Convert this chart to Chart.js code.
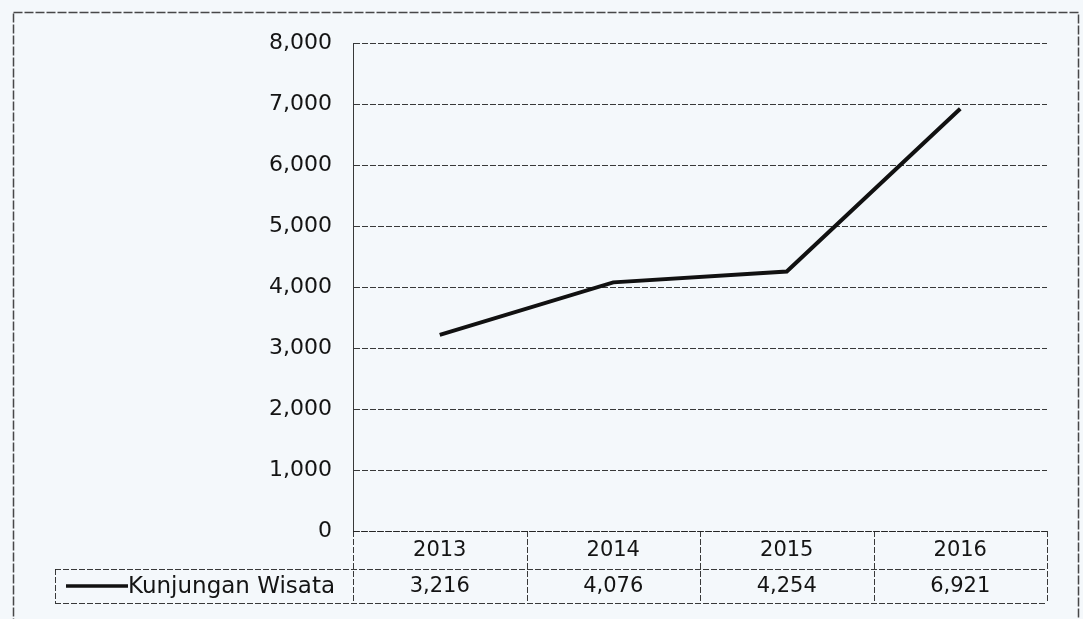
<!DOCTYPE html>
<html>
<head>
<meta charset="utf-8">
<title>Kunjungan Wisata</title>
<script src="https://cdn.jsdelivr.net/npm/chart.js@4.4.1/dist/chart.umd.min.js"></script>
<style>
	html, body { margin: 0; padding: 0; background: #f4f8fb; }
	#wrap { width: 1083px; height: 619px; position: relative; }
</style>
</head>
<body>
<div id="wrap"><canvas id="visitChart" width="1083" height="619"></canvas></div>
<script>
var years = ['2013', '2014', '2015', '2016'];
var seriesName = 'Kunjungan Wisata';
var visits = [3216, 4076, 4254, 6921];
var yTicks = [0, 1000, 2000, 3000, 4000, 5000, 6000, 7000, 8000];

var gridColor = 'rgba(35,35,35,0.9)';
var textColor = '#141414';

function fmt(v) {
	return Number(v).toLocaleString('en-US');
}

// outer frame of the chart object, runs off the bottom of the page
var framePlugin = {
	id: 'frame',
	beforeDraw: function(chart) {
		var ctx = chart.ctx;
		ctx.save();
		ctx.fillStyle = '#f4f8fb';
		ctx.fillRect(0, 0, chart.width, chart.height);
		ctx.strokeStyle = 'rgba(40,40,40,0.85)';
		ctx.lineWidth = 1.5;
		ctx.setLineDash([9, 2]);
		ctx.strokeRect(13.5, 12.5, 1065, 700);
		ctx.restore();
	}
};

// data table under the plot: year header row and a value row with the legend key
var dataTablePlugin = {
	id: 'dataTable',
	afterDraw: function(chart) {
		var ctx = chart.ctx;
		var xs = chart.scales.x;
		var area = chart.chartArea;
		var step = (area.right - area.left) / years.length;
		var top = area.bottom;
		var mid = top + 38;
		var bottom = top + 72;
		var keyLeft = 55;

		ctx.save();
		ctx.strokeStyle = gridColor;
		ctx.lineWidth = 1;
		ctx.setLineDash([6, 2]);

		ctx.beginPath();
		ctx.moveTo(area.left, top + 0.5);
		ctx.lineTo(area.right, top + 0.5);
		ctx.moveTo(keyLeft, mid + 0.5);
		ctx.lineTo(area.right, mid + 0.5);
		ctx.moveTo(keyLeft, bottom + 0.5);
		ctx.lineTo(area.right, bottom + 0.5);
		ctx.moveTo(keyLeft + 0.5, mid);
		ctx.lineTo(keyLeft + 0.5, bottom);
		for (var i = 0; i <= years.length; i++) {
			var bx = Math.round(area.left + i * step) + 0.5;
			ctx.moveTo(bx, top);
			ctx.lineTo(bx, bottom);
		}
		ctx.stroke();

		ctx.setLineDash([]);
		ctx.fillStyle = textColor;
		ctx.font = '21px "DejaVu Sans"';
		ctx.textAlign = 'center';
		ctx.textBaseline = 'middle';
		for (var j = 0; j < years.length; j++) {
			var cx = xs.getPixelForValue(j);
			ctx.fillText(years[j], cx, (top + mid) / 2 + 1);
			ctx.fillText(fmt(visits[j]), cx, (mid + bottom) / 2 + 1);
		}

		// legend key
		var ky = (mid + bottom) / 2;
		ctx.strokeStyle = '#111';
		ctx.lineWidth = 3.5;
		ctx.beginPath();
		ctx.moveTo(66, ky);
		ctx.lineTo(128, ky);
		ctx.stroke();
		ctx.font = '23px "DejaVu Sans"';
		ctx.textAlign = 'left';
		ctx.fillText(seriesName, 128, ky + 1);
		ctx.restore();
	}
};

var ctx = document.getElementById('visitChart').getContext('2d');
var chart = new Chart(ctx, {
	type: 'line',
	data: {
		labels: years,
		datasets: [{
			label: seriesName,
			data: visits,
			borderColor: '#111',
			borderWidth: 4,
			pointRadius: 0,
			tension: 0,
			fill: false
		}]
	},
	options: {
		responsive: false,
		animation: false,
		layout: {
			padding: { left: 0, right: 36, top: 43, bottom: 88 }
		},
		plugins: {
			legend: { display: false },
			tooltip: { enabled: false }
		},
		scales: {
			x: {
				display: false,
				offset: true
			},
			y: {
				min: 0,
				max: 8000,
				afterFit: function(scale) {
					scale.width = 353;
				},
				afterBuildTicks: function(scale) {
					scale.ticks = yTicks.map(function(v) { return {value: v}; });
				},
				border: { display: true, color: gridColor, width: 1, dash: [6, 2] },
				grid: {
					color: gridColor,
					lineWidth: 1,
					drawTicks: false
				},
				ticks: {
					padding: 21,
					color: textColor,
					font: { family: 'DejaVu Sans', size: 22 },
					callback: function(v) { return fmt(v); }
				}
			}
		}
	},
	plugins: [framePlugin, dataTablePlugin]
});
</script>
</body>
</html>
